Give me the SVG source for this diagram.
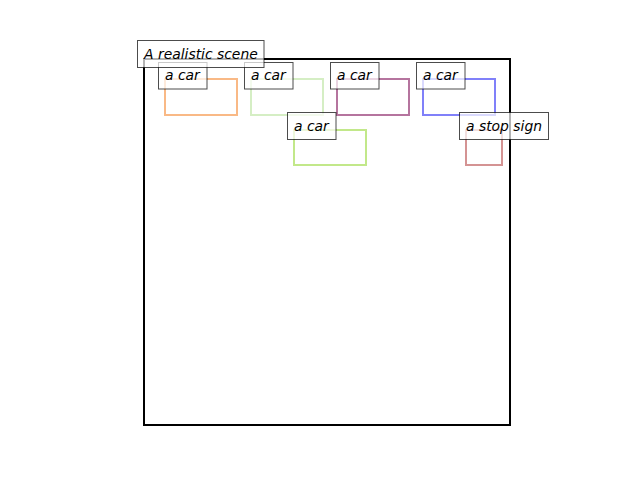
<svg xmlns="http://www.w3.org/2000/svg" width="640" height="480" viewBox="0 0 640 480">
<style>
.box{fill:none;stroke-width:2;stroke-linejoin:miter}
.lbl rect{fill:#ffffff;fill-opacity:0.7;stroke:#000000;stroke-opacity:0.7;stroke-width:1}
.lbl text{font-family:"DejaVu Sans",sans-serif;font-style:italic;font-size:13.9px;fill:#000000}
</style>
<rect width="640" height="480" fill="#ffffff"/>
<g id="axes">
<rect x="144" y="59" width="366" height="366" fill="none" stroke="#000000" stroke-width="2"/>
</g>
<g id="connectors"></g>
<g id="car1">
<rect class="box" x="165" y="79" width="72" height="36" stroke="#f9b986"/>
<g class="lbl"><rect x="158.5" y="62.5" width="48.5" height="26.5"/><text x="165" y="80">a car</text></g>
</g>
<g id="car2">
<rect class="box" x="251" y="79" width="72" height="36" stroke="#d5eec4"/>
<g class="lbl"><rect x="244.5" y="62.5" width="48.5" height="26.5"/><text x="251" y="80">a car</text></g>
</g>
<g id="car3">
<rect class="box" x="337" y="79" width="72" height="36" stroke="#b5749e"/>
<g class="lbl"><rect x="330.5" y="62.5" width="48.5" height="26.5"/><text x="337" y="80">a car</text></g>
</g>
<g id="car4">
<rect class="box" x="423" y="79" width="72" height="36" stroke="#8080f9"/>
<g class="lbl"><rect x="416.5" y="62.5" width="48.5" height="26.5"/><text x="423" y="80">a car</text></g>
</g>
<g id="car5">
<rect class="box" x="294" y="130" width="72" height="35" stroke="#c2e88a"/>
<g class="lbl"><rect x="287.5" y="112.5" width="48.5" height="27"/><text x="294" y="131">a car</text></g>
</g>
<g id="stopsign">
<rect class="box" x="466" y="130" width="36" height="35" stroke="#d49393"/>
<g class="lbl"><rect x="459.5" y="112.5" width="89" height="27"/><text x="466" y="131">a stop sign</text></g>
</g>
<g id="title">
<g class="lbl"><rect x="137.5" y="40.5" width="126.5" height="27"/><text x="144" y="59">A realistic scene</text></g>
</g>
</svg>
